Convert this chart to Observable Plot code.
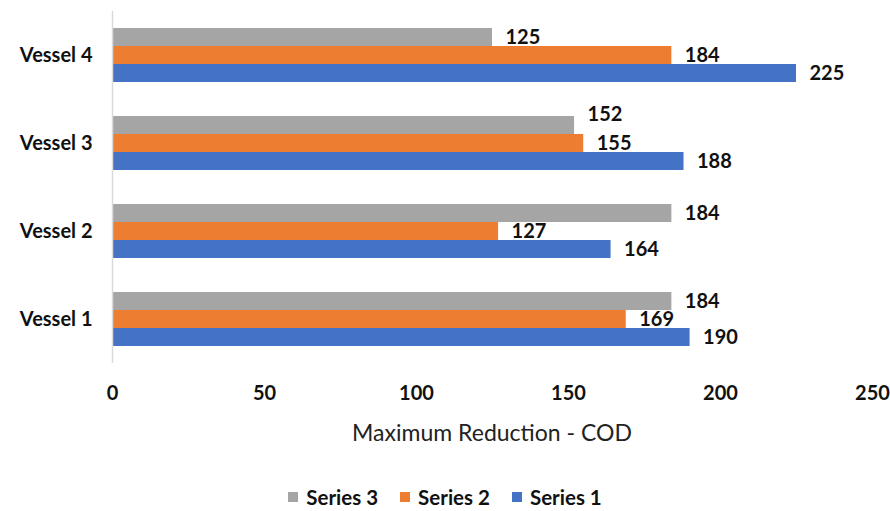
<!DOCTYPE html>
<html>
<head>
<meta charset="utf-8">
<script src="https://cdn.jsdelivr.net/npm/d3@7"></script>
<script src="https://cdn.jsdelivr.net/npm/@observablehq/plot@0.6"></script>
<style>
  body { margin: 0; background: #fff; }
  #wrap { position: relative; width: 890px; height: 511px; font-family: Lato, "Open Sans", sans-serif; color: #000; }
  #chart { position: absolute; left: 0; top: 0; }
  #xtitle { position: absolute; left: 112px; width: 760px; top: 417px; text-align: center; font-size: 23px; color: #222; line-height: 30px; }
  #legend { position: absolute; left: 0; width: 890px; top: 484px; display: flex; justify-content: center; gap: 22px; font-size: 20.5px; font-weight: bold; color: #111; line-height: 26px; }
  .item { display: flex; align-items: center; gap: 8px; }
  .sw { width: 10px; height: 10px; display: inline-block; }
</style>
</head>
<body>
<div id="wrap">
  <div id="chart"></div>
  <div id="xtitle"></div>
  <div id="legend"></div>
</div>
<script>
const vessels = ["Vessel 1", "Vessel 2", "Vessel 3", "Vessel 4"];
const seriesNames = ["Series 1", "Series 2", "Series 3"];
const series1 = [190, 164, 188, 225];
const series2 = [169, 127, 155, 184];
const series3 = [184, 184, 152, 125];
const seriesColors = ["#4472C4", "#ED7D31", "#A5A5A5"];
const xTicks = [0, 50, 100, 150, 200, 250];
const xTitle = "Maximum Reduction - COD";

const seriesValues = [series1, series2, series3];
const data = [];
vessels.forEach((v, i) => {
  seriesNames.forEach((s, j) => {
    data.push({vessel: v, series: s, value: seriesValues[j][i]});
  });
});

// The one label the original nudges upward to avoid colliding with its neighbour
const isNudged = d => d.vessel === "Vessel 3" && d.series === "Series 3";
const labelStyle = {x: "value", y: "series", fy: "vessel", text: d => String(d.value), textAnchor: "start", dx: 13, fill: "#111", fontSize: 20, fontWeight: "bold"};

const chart = Plot.plot({
  width: 890,
  height: 410,
  marginLeft: 112,
  marginRight: 18,
  marginTop: 10,
  marginBottom: 47,
  style: {fontFamily: "Lato, 'Open Sans', sans-serif", fontSize: "20px", fontWeight: "bold", color: "#111", background: "white"},
  x: {domain: [0, 250]},
  fy: {domain: vessels.slice().reverse(), padding: 0},
  y: {domain: seriesNames.slice().reverse(), paddingInner: 0, paddingOuter: 0.9},
  color: {domain: seriesNames, range: seriesColors},
  marks: [
    Plot.barX(data, {x: "value", y: "series", fy: "vessel", fill: "series", insetTop: 0, insetBottom: 0}),
    Plot.ruleX([0], {stroke: "#d9d9d9", strokeWidth: 1.5}),
    Plot.text(data.filter(d => !isNudged(d)), labelStyle),
    Plot.text(data.filter(isNudged), {...labelStyle, dy: -11}),
    Plot.axisX({ticks: xTicks, tickSize: 0, tickPadding: 22, label: null, fontSize: 20, tickFormat: d => String(d)}),
    Plot.axisFy({anchor: "left", tickSize: 0, tickPadding: 20, label: null, fontSize: 20}),
    Plot.axisY({ticks: [], label: null})
  ]
});
document.getElementById("chart").appendChild(chart);
document.getElementById("xtitle").textContent = xTitle;

const legend = document.getElementById("legend");
[2, 1, 0].forEach(j => {
  const item = document.createElement("div");
  item.className = "item";
  const sw = document.createElement("span");
  sw.className = "sw";
  sw.style.background = seriesColors[j];
  const t = document.createElement("span");
  t.textContent = seriesNames[j];
  item.appendChild(sw);
  item.appendChild(t);
  legend.appendChild(item);
});
</script>
</body>
</html>
